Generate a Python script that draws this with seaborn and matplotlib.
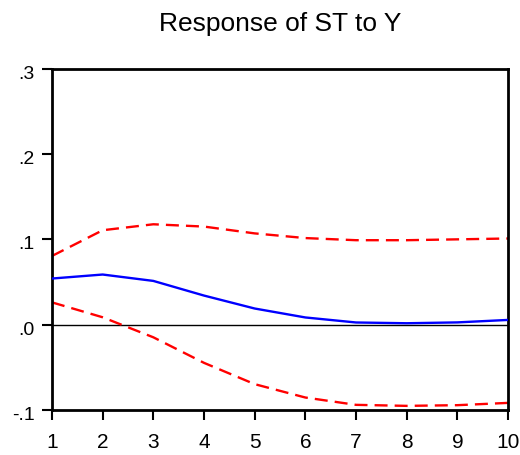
import matplotlib
matplotlib.use("Agg")
import matplotlib.pyplot as plt
import matplotlib.transforms as mtransforms
import seaborn as sns
import pandas as pd

periods = [1, 2, 3, 4, 5, 6, 7, 8, 9, 10]
response = [0.054, 0.0587, 0.0512, 0.034, 0.0188, 0.0083, 0.0024, 0.0015, 0.0025, 0.0054]
upper_band = [0.0805, 0.1107, 0.1177, 0.115, 0.107, 0.1015, 0.099, 0.099, 0.1, 0.101]
lower_band = [0.026, 0.0085, -0.015, -0.045, -0.070, -0.0857, -0.0943, -0.0955, -0.0947, -0.092]
y_ticks = [-0.1, 0.0, 0.1, 0.2, 0.3]
y_tick_labels = ["-.1", ".0", ".1", ".2", ".3"]

sns.set_style("white")
plt.rcParams["font.family"] = ["Liberation Sans", "DejaVu Sans"]

df = pd.DataFrame({"period": periods, "response": response,
                   "upper": upper_band, "lower": lower_band})

fig = plt.figure(figsize=(5.2, 4.56), dpi=100)
ax = fig.add_axes([52 / 520, 1 - 410.7 / 456, 456 / 520, 340.7 / 456])

ax.axhline(0, color="black", linewidth=1.0, zorder=1)
sns.lineplot(data=df, x="period", y="upper", ax=ax, color="#ff0000",
             linewidth=1.7, linestyle=(0, (5.5, 3)), zorder=2)
sns.lineplot(data=df, x="period", y="lower", ax=ax, color="#ff0000",
             linewidth=1.7, linestyle=(0, (5.5, 3)), zorder=2)
sns.lineplot(data=df, x="period", y="response", ax=ax, color="#0000ff",
             linewidth=1.7, zorder=3)

ax.set_xlim(1, 10)
ax.set_ylim(-0.1, 0.3)
ax.set_xticks(periods)
ax.set_xticklabels([str(p) for p in periods])
ax.set_yticks(y_ticks)
ax.set_yticklabels(y_tick_labels)
ax.set_xlabel("")
ax.set_ylabel("")

for side in ["left", "right", "top", "bottom"]:
    ax.spines[side].set_visible(True)
    ax.spines[side].set_color("black")
    ax.spines[side].set_linewidth(2.0)

ax.tick_params(axis="both", which="major", direction="out", length=7,
               width=1.5, color="black", labelcolor="black",
               bottom=True, left=True)
ax.tick_params(axis="x", pad=9, labelsize=15)
ax.tick_params(axis="y", pad=5.5, labelsize=14)

# y labels sit slightly below their ticks
shift_down = mtransforms.ScaledTranslation(0, -0.025, fig.dpi_scale_trans)
for lbl in ax.get_yticklabels():
    lbl.set_transform(lbl.get_transform() + shift_down)

ax.set_title("Response of ST to Y", fontsize=19, pad=28, color="black")

fig.savefig("out.png", dpi=100)
